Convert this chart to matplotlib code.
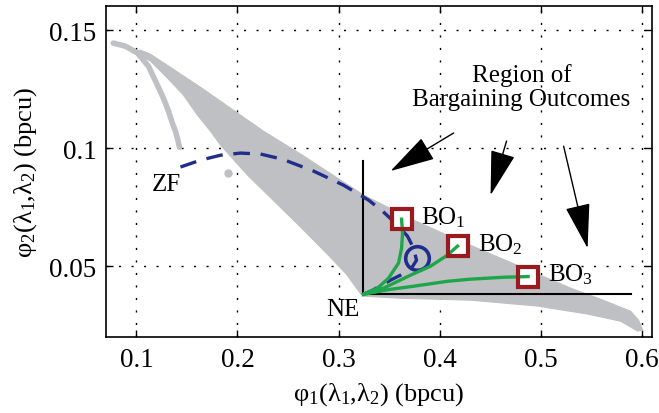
import numpy as np
import matplotlib
matplotlib.use("Agg")
import matplotlib.pyplot as plt

plt.rcParams['font.family'] = ['Liberation Serif', 'DejaVu Serif']
plt.rcParams['mathtext.fontset'] = 'custom'
plt.rcParams['mathtext.rm'] = 'Liberation Serif'
plt.rcParams['mathtext.it'] = 'Liberation Serif:italic'
plt.rcParams['font.size'] = 18

# %% — data read off the reference
# outline of the grey region of bargaining outcomes (upper edge, then lower edge back)
region_x = [0.0970, 0.1040, 0.1139, 0.1634, 0.2257, 0.2624, 0.3248, 0.3743, 0.4139,
            0.5297, 0.5594, 0.5891, 0.5970, 0.6010,
            0.5960, 0.5792, 0.5465, 0.4970, 0.4307, 0.3614, 0.3238, 0.3178, 0.3079,
            0.2901, 0.2624, 0.2099, 0.1832, 0.1733, 0.1604, 0.1465, 0.1307, 0.1139, 0.1020]
region_y = [0.1407, 0.1415, 0.1398, 0.1258, 0.1072, 0.0975, 0.0801, 0.0695, 0.0619,
            0.0407, 0.0360, 0.0309, 0.0271, 0.0229,
            0.0225, 0.0267, 0.0297, 0.0331, 0.0356, 0.0364, 0.0373, 0.0407, 0.0466,
            0.0546, 0.0666, 0.0886, 0.1013, 0.1072, 0.1140, 0.1225, 0.1297, 0.1369, 0.1394]

# separate grey arc on the left
arc_x = [0.0772, 0.0891, 0.1010, 0.1119, 0.1208, 0.1267, 0.1317, 0.1356, 0.1386, 0.1406, 0.1426]
arc_y = [0.1445, 0.1432, 0.1403, 0.1347, 0.1267, 0.1212, 0.1157, 0.1106, 0.1072, 0.1042, 0.1004]
stray_x, stray_y = [0.1911], [0.0894]

# ZF curve (dashed)
zf_x = [0.1436, 0.1634, 0.1832, 0.2030, 0.2228, 0.2446, 0.2752, 0.3050, 0.3297, 0.3436,
        0.3584, 0.3683, 0.3743, 0.3772, 0.3723, 0.3614, 0.3515, 0.3337, 0.3248]
zf_y = [0.0920, 0.0949, 0.0970, 0.0979, 0.0975, 0.0953, 0.0903, 0.0843, 0.0780, 0.0733,
        0.0674, 0.0627, 0.0576, 0.0525, 0.0492, 0.0462, 0.0441, 0.0398, 0.0381]
circle_pt = (0.3772, 0.0535)

# NE point and the two lines through it
ne = (0.3238, 0.0380)
ne_vline_top = 0.0945
ne_hline_end = 0.589

# bargaining paths NE -> BO_k
bo_names = ["BO$_1$", "BO$_2$", "BO$_3$"]
bo_x = [0.3624, 0.4178, 0.4876]
bo_y = [0.0699, 0.0585, 0.0456]
path_x = [[0.3248, 0.3386, 0.3495, 0.3594, 0.3624, 0.3634, 0.3624],
          [0.3248, 0.3446, 0.3713, 0.3911, 0.4079, 0.4178],
          [0.3248, 0.3515, 0.3743, 0.4079, 0.4307, 0.4634, 0.4876]]
path_y = [[0.0381, 0.0407, 0.0449, 0.0513, 0.0576, 0.0640, 0.0699],
          [0.0381, 0.0407, 0.0462, 0.0500, 0.0547, 0.0585],
          [0.0381, 0.0402, 0.0415, 0.0436, 0.0445, 0.0453, 0.0456]]

# arrows: (tail, head)
arrow_tails = [(0.4139, 0.1064), (0.4663, 0.1030), (0.5228, 0.1008)]
arrow_heads = [(0.3515, 0.0903), (0.4505, 0.0801), (0.5465, 0.0576)]

x_ticks = [0.1, 0.2, 0.3, 0.4, 0.5, 0.6]
x_ticklabels = ["0.1", "0.2", "0.3", "0.4", "0.5", "0.6"]
y_ticks = [0.05, 0.1, 0.15]
y_ticklabels = ["0.05", "0.1", "0.15"]

GREY = "#bfc0c3"
NAVY = "#1f2e8c"
GREEN = "#1ea64b"
DARKRED = "#9a1b1f"

# %% — plot
fig = plt.figure(figsize=(6.59, 4.14), dpi=100)
ax = fig.add_axes([0.161, 0.1836, 0.828, 0.7983])

ax.fill(region_x, region_y, color=GREY, lw=0.8, ec=GREY, zorder=1)
ax.plot(arc_x, arc_y, color=GREY, lw=4, solid_capstyle="round", zorder=1)
ax.plot(stray_x, stray_y, "o", color=GREY, ms=5, zorder=1)

ax.plot(zf_x, zf_y, color=NAVY, lw=2.4, dashes=(5, 3.2), zorder=3)
ax.plot(*circle_pt, "o", mfc="none", mec=NAVY, mew=2.6, ms=17, zorder=3)

ax.plot([ne[0], ne[0]], [ne[1], ne_vline_top], color="black", lw=1.5, zorder=2)
ax.plot([ne[0], ne_hline_end], [ne[1], ne[1]], color="black", lw=1.5, zorder=2)

ax.plot(bo_x, bo_y, "s", color="white", ms=15, mew=0, zorder=3)
for px, py in zip(path_x, path_y):
    ax.plot(px, py, color=GREEN, lw=2.4, zorder=4)
ax.plot(bo_x, bo_y, "s", mfc="none", mec=DARKRED, ms=15, mew=3, zorder=5)

# labels
ax.text(0.1297, 0.0847, "ZF", ha="center", va="center")
ax.text(0.304, 0.0318, "NE", ha="center", va="center")
bo_text_x = [0.3812, 0.4376, 0.507]
bo_text_y = [0.0682, 0.0568, 0.0441]
for name, tx, ty in zip(bo_names, bo_text_x, bo_text_y):
    ax.text(tx, ty, name, ha="left", va="baseline")

ax.text(0.481, 0.1261, "Region of\nBargaining Outcomes", ha="center", va="center",
        linespacing=1.1)
for tail, head in zip(arrow_tails, arrow_heads):
    ax.annotate("", xy=head, xytext=tail,
                arrowprops=dict(arrowstyle="-|>,head_length=1.3,head_width=0.36",
                                color="black", lw=1.0, mutation_scale=22,
                                shrinkA=0, shrinkB=0))

ax.set_xlim(0.07, 0.61)
ax.set_ylim(0.02, 0.16)
ax.set_xticks(x_ticks)
ax.set_xticklabels(x_ticklabels)
ax.set_yticks(y_ticks)
ax.set_yticklabels(y_ticklabels)
ax.tick_params(direction="in", top=True, right=True, length=5, width=1.0, pad=7,
               labelsize=19.5)
ax.grid(True, color="black", linestyle=(0, (1.5, 7.5)), lw=1.0)
ax.set_axisbelow(True)
for s in ax.spines.values():
    s.set_linewidth(1.2)

ax.set_xlabel("φ$_1$(λ$_1$,λ$_2$) (bpcu)", labelpad=6, fontsize=19)
ax.set_ylabel("φ$_2$(λ$_1$,λ$_2$) (bpcu)", labelpad=7, fontsize=19)

plt.savefig("out.png", dpi=100)
